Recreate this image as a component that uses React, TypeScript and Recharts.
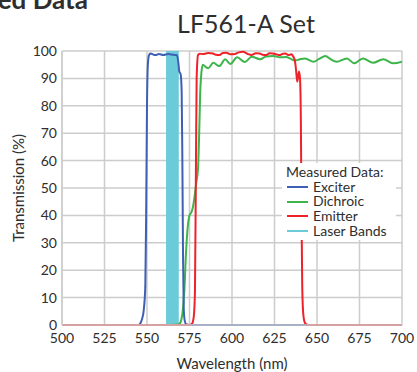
import {
  LineChart,
  Line,
  XAxis,
  YAxis,
  CartesianGrid,
  ReferenceArea,
} from 'recharts';

// [wavelength nm, transmission %]
const EXCITER: [number, number][] = [
  [500, 0], [540, 0], [545, 0], [546, 0.5], [547, 2], [548, 5], [549, 14],
  [549.5, 40], [550, 80], [550.5, 95], [551.2, 98.5], [552, 99.1],
  [555, 98.5], [557, 98.9], [559.6, 98.5], [562.5, 98.9], [565.5, 98.6],
  [567.5, 98.5], [568.4, 96], [569, 92.5], [569.8, 91.5], [570.4, 85],
  [570.8, 60], [571.2, 25], [571.6, 6], [572.2, 1.5], [573, 0.3], [575, 0],
  [700, 0],
];

const DICHROIC: [number, number][] = [
  [500, 0], [560, 0], [568, 0.2], [569, 0.4], [570, 1.5], [571, 5], [572, 13],
  [573, 27], [574, 36], [575, 40], [576, 41], [577, 43], [578, 47], [579, 52],
  [580, 57], [580.7, 70], [581.3, 85], [582, 92], [582.8, 95], [584.5, 94.2],
  [586, 93.7], [589, 95.7], [592.5, 94.5], [596, 97], [599, 95.3],
  [603, 97.7], [607.6, 96], [611.6, 97.9], [616.5, 97], [620, 98],
  [624.3, 98.2], [628, 97.7], [632, 97.8], [634, 97.3], [637, 96.5],
  [640, 97], [643, 97.3], [648, 96.1], [651, 97], [655, 98.2], [658, 97],
  [661.6, 96.1], [667.5, 97.3], [672, 95.5], [677, 97.3], [683, 95.7],
  [689, 97], [695, 95.5], [700, 96.1],
];

const EMITTER: [number, number][] = [
  [500, 0], [575, 0], [576.5, 0.5], [577.5, 3], [578.2, 12], [578.7, 50],
  [579.2, 90], [580, 98.5], [581, 99], [583, 98.9], [586, 99.3],
  [588.8, 99.1], [590.5, 98.6], [592.7, 98.5], [594.5, 99.3], [596.6, 99.4],
  [599, 98.8], [601.6, 98.9], [604, 99.5], [606.5, 99.7], [609, 99],
  [611.4, 98.5], [614, 99.2], [616.3, 99.1], [618, 98.6], [620, 98.5],
  [622, 99.2], [624, 99.1], [626, 98.8], [628, 98.5], [630, 99],
  [631.5, 99.1], [633, 98.5], [635, 98.8], [636, 98], [637, 96.5],
  [637.6, 93.5], [638.4, 88.8], [639.4, 92.5], [640, 90], [640.5, 75],
  [640.9, 40], [641.3, 15], [641.8, 5], [642.5, 1.5], [643.5, 0.3], [645, 0],
  [700, 0],
];

const LASER_BAND: [number, number] = [561.2, 568.7];

const X_TICKS = [500, 525, 550, 575, 600, 625, 650, 675, 700];
const Y_TICKS = [0, 10, 20, 30, 40, 50, 60, 70, 80, 90, 100];

const LEGEND_ITEMS = [
  { name: 'Exciter', color: '#3e5fb6' },
  { name: 'Dichroic', color: '#3db54a' },
  { name: 'Emitter', color: '#ee2229' },
  { name: 'Laser Bands', color: '#6ccbd9' },
];

const FONT = 'Lato, "Noto Sans", sans-serif';
const TEXT = '#2e2e2e';

const toRows = (pts: [number, number][]) => pts.map(([nm, t]) => ({ nm, t }));

export default function App() {
  return (
    <div
      style={{
        position: 'absolute',
        left: 0,
        top: 0,
        width: 417,
        height: 372,
        overflow: 'hidden',
        background: '#fff',
        fontFamily: FONT,
        color: TEXT,
      }}
    >
      <div
        style={{
          position: 'absolute',
          right: 329,
          top: -14,
          fontSize: 26,
          fontWeight: 700,
          lineHeight: '26px',
          whiteSpace: 'nowrap',
        }}
      >
        Measured Data
      </div>
      <div
        style={{
          position: 'absolute',
          left: 62,
          width: 340,
          top: 8,
          textAlign: 'center',
          fontSize: 25,
          lineHeight: '30px',
          paddingLeft: 14,
        }}
      >
        LF561-A Set
      </div>
      <LineChart
        width={417}
        height={372}
        margin={{ top: 51, right: 15, left: 22, bottom: 17 }}
      >
        <CartesianGrid stroke="#cccccc" strokeWidth={1.5} />
        <ReferenceArea
          x1={LASER_BAND[0]}
          x2={LASER_BAND[1]}
          y1={0}
          y2={100}
          fill="#6ccbd9"
          fillOpacity={1}
          stroke="none"
        />
        <XAxis
          dataKey="nm"
          type="number"
          domain={[500, 700]}
          ticks={X_TICKS}
          allowDataOverflow
          height={30}
          tickLine={false}
          axisLine={{ stroke: '#cccccc', strokeWidth: 1.5 }}
          tickSize={6}
          tickMargin={2}
          tick={{ fill: TEXT, fontSize: 14, fontFamily: FONT }}
          label={{
            value: 'Wavelength (nm)',
            position: 'insideBottom',
            offset: -14,
            style: { fill: TEXT, fontSize: 15, fontFamily: FONT },
          }}
        />
        <YAxis
          type="number"
          domain={[0, 100]}
          ticks={Y_TICKS}
          width={40}
          tickLine={false}
          axisLine={{ stroke: '#cccccc', strokeWidth: 1.5 }}
          tickSize={3}
          tickMargin={2}
          tick={{ fill: TEXT, fontSize: 14, fontFamily: FONT }}
          label={{
            value: 'Transmission (%)',
            angle: -90,
            position: 'insideLeft',
            offset: -3,
            style: { fill: TEXT, fontSize: 15, fontFamily: FONT, textAnchor: 'middle' },
          }}
        />
        <Line
          data={toRows(DICHROIC)}
          dataKey="t"
          type="monotone"
          stroke="#3db54a"
          strokeWidth={2}
          dot={false}
          isAnimationActive={false}
        />
        <Line
          data={toRows(EXCITER)}
          dataKey="t"
          type="monotone"
          stroke="#3e5fb6"
          strokeWidth={2}
          dot={false}
          isAnimationActive={false}
        />
        <Line
          data={toRows(EMITTER)}
          dataKey="t"
          type="monotone"
          stroke="#ee2229"
          strokeWidth={2}
          dot={false}
          isAnimationActive={false}
        />
      </LineChart>
      <div
        style={{
          position: 'absolute',
          left: 282,
          top: 163,
          width: 114,
          height: 77,
          background: '#fff',
          fontSize: 14,
          lineHeight: '14.7px',
          paddingTop: 2,
          boxSizing: 'border-box',
        }}
      >
        <div style={{ paddingLeft: 4 }}>Measured Data:</div>
        {LEGEND_ITEMS.map((item) => (
          <div
            key={item.name}
            style={{ display: 'flex', alignItems: 'center', paddingLeft: 5 }}
          >
            <span
              style={{
                display: 'inline-block',
                width: 21,
                height: 2,
                background: item.color,
                marginRight: 5,
              }}
            />
            {item.name}
          </div>
        ))}
      </div>
    </div>
  );
}
